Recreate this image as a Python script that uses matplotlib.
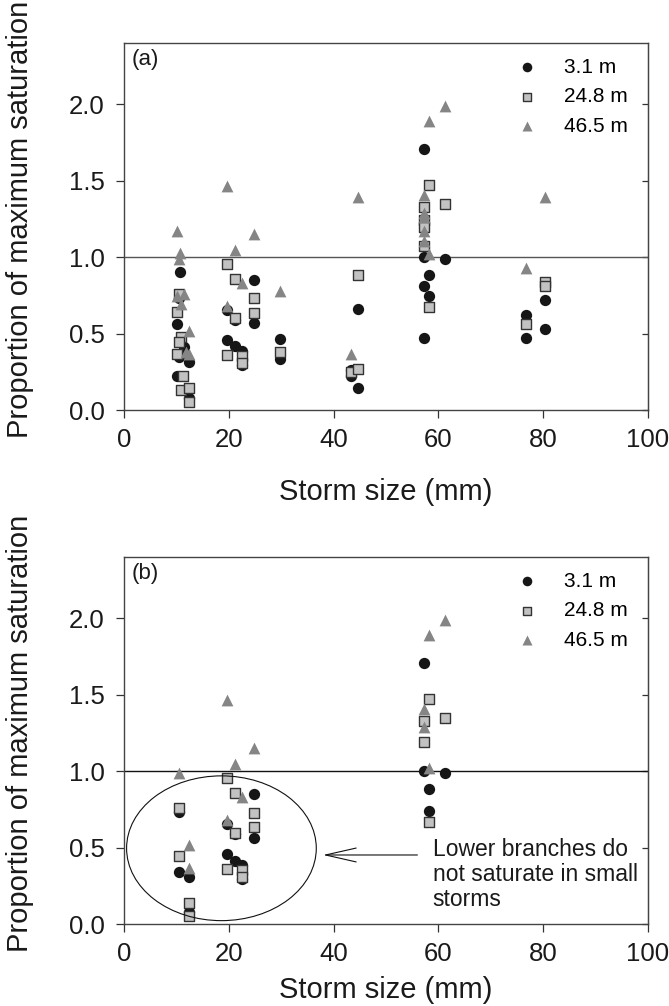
import matplotlib.pyplot as plt
from matplotlib.patches import Ellipse

plt.rcParams['font.family'] = ['Liberation Sans', 'DejaVu Sans']

# (a) all storms
a_x_31 = [10.6, 10.2, 11.5, 10.5, 10.5, 12.4, 10.2, 12.4, 19.6, 19.6, 21.2, 21.2, 22.5, 22.5,
          24.8, 24.8, 29.7, 29.7, 43.4, 43.4, 44.6, 44.6, 57.2, 57.2, 57.2, 57.2, 58.3, 58.3,
          61.2, 76.7, 76.7, 80.3, 80.3]
a_y_31 = [0.905, 0.565, 0.415, 0.735, 0.344, 0.311, 0.22, 0.082, 0.654, 0.46, 0.59, 0.416, 0.388, 0.294,
          0.85, 0.566, 0.467, 0.337, 0.26, 0.225, 0.662, 0.141, 1.71, 1.0, 0.808, 0.471, 0.886, 0.743,
          0.99, 0.62, 0.471, 0.72, 0.532]
a_x_248 = [10.5, 10.2, 10.9, 10.5, 10.2, 11.2, 10.9, 12.4, 12.4, 19.6, 19.6, 21.2, 21.2, 22.5, 22.5,
           24.8, 24.8, 29.7, 43.4, 44.6, 44.6, 57.2, 57.2, 57.2, 57.2, 58.3, 58.3, 61.2, 76.7, 80.3, 80.3]
a_y_248 = [0.76, 0.64, 0.48, 0.446, 0.365, 0.22, 0.13, 0.141, 0.054, 0.958, 0.36, 0.856, 0.599, 0.355, 0.307,
           0.73, 0.634, 0.38, 0.25, 0.886, 0.27, 1.33, 1.24, 1.20, 1.07, 1.47, 0.671, 1.35, 0.565, 0.84, 0.81]
a_x_465 = [10.2, 10.6, 10.5, 10.2, 11.5, 10.8, 12.4, 11.9, 12.4, 19.6, 19.6, 21.2, 22.5, 24.8,
           29.7, 43.4, 44.6, 57.2, 57.2, 57.2, 57.2, 57.2, 58.3, 58.3, 61.2, 76.7, 80.3]
a_y_465 = [1.17, 1.03, 0.99, 0.745, 0.76, 0.695, 0.518, 0.38, 0.366, 1.466, 0.68, 1.048, 0.83, 1.154,
           0.777, 0.369, 1.394, 1.407, 1.29, 1.26, 1.173, 1.103, 1.893, 1.02, 1.99, 0.93, 1.39]

# (b) subset of storms
b_x_31 = [10.5, 10.5, 12.4, 12.4, 19.6, 19.6, 21.2, 21.2, 22.5, 22.5, 24.8, 24.8, 57.2, 57.2, 58.3, 58.3, 61.2]
b_y_31 = [0.735, 0.344, 0.311, 0.082, 0.654, 0.46, 0.59, 0.416, 0.388, 0.294, 0.85, 0.566, 1.71, 1.0, 0.886, 0.743, 0.99]
b_x_248 = [10.5, 10.5, 12.4, 12.4, 19.6, 19.6, 21.2, 21.2, 22.5, 22.5, 24.8, 24.8, 57.2, 57.2, 58.3, 58.3, 61.2]
b_y_248 = [0.76, 0.446, 0.141, 0.054, 0.958, 0.36, 0.856, 0.599, 0.355, 0.307, 0.725, 0.634, 1.33, 1.19, 1.47, 0.671, 1.35]
b_x_465 = [10.5, 12.4, 12.4, 19.6, 19.6, 21.2, 22.5, 24.8, 57.2, 57.2, 58.3, 58.3, 61.2]
b_y_465 = [0.99, 0.518, 0.366, 1.466, 0.68, 1.048, 0.83, 1.154, 1.407, 1.29, 1.893, 1.02, 1.99]

series_labels = ['3.1 m', '24.8 m', '46.5 m']
x_ticks = [0, 20, 40, 60, 80, 100]
y_ticks = [0.0, 0.5, 1.0, 1.5, 2.0]
note = 'Lower branches do\nnot saturate in small\nstorms'


def draw_panel(ax, xs, ys, tag, xlabel_y, line_color):
    ax.scatter(xs[0], ys[0], marker='o', s=66, color='#161616', linewidths=0,
               label=series_labels[0], zorder=3)
    ax.scatter(xs[1], ys[1], marker='s', s=50, facecolor='#c2c2c2', edgecolor='#333333',
               linewidths=1.0, label=series_labels[1], zorder=3)
    ax.scatter(xs[2], ys[2], marker='^', s=72, color='#858585', linewidths=0,
               label=series_labels[2], zorder=3)
    ax.axhline(1.0, color=line_color, lw=1.0, zorder=2)

    ax.set_xlim(0, 100)
    ax.set_ylim(0, 2.4)
    ax.set_xticks(x_ticks)
    ax.set_yticks(y_ticks)
    ax.set_yticklabels([f'{v:.1f}' for v in y_ticks])
    ax.tick_params(axis='both', direction='out', length=6, width=0.9, labelsize=18.5,
                   color='#333333', labelcolor='#1a1a1a')
    ax.tick_params(axis='x', pad=7)
    ax.tick_params(axis='y', pad=8)
    for sp in ax.spines.values():
        sp.set_color('#444444')
        sp.set_linewidth(1.0)

    # inward ticks on the right edge, no labels
    right = ax.secondary_yaxis('right')
    right.set_yticks(y_ticks)
    right.tick_params(direction='in', length=4.5, width=0.9, labelright=False, color='#333333')
    right.spines['right'].set_color('#444444')

    ax.set_xlabel('Storm size (mm)', fontsize=21, color='#1a1a1a')
    ax.set_ylabel('Proportion of maximum saturation', fontsize=21, color='#1a1a1a')
    ax.xaxis.set_label_coords(0.5, xlabel_y)
    ax.yaxis.set_label_coords(-0.172, 0.52)

    ax.text(0.014, 0.985, tag, transform=ax.transAxes, fontsize=16, ha='left', va='top',
            color='#1a1a1a')
    ax.legend(loc='upper left', bbox_to_anchor=(0.75, 0.96), frameon=False, fontsize=15,
              handlelength=1.0, handletextpad=1.25, labelspacing=0.5, borderpad=0,
              borderaxespad=0, markerscale=0.85)


fig = plt.figure(figsize=(6.69, 10.06), dpi=100)
ax_a = fig.add_axes([0.1853, 0.5924, 0.7833, 0.3648])
ax_b = fig.add_axes([0.1853, 0.0812, 0.7833, 0.3651])

draw_panel(ax_a, [a_x_31, a_x_248, a_x_465], [a_y_31, a_y_248, a_y_465], '(a)', -0.184, '#555555')
draw_panel(ax_b, [b_x_31, b_x_248, b_x_465], [b_y_31, b_y_248, b_y_465], '(b)', -0.142, '#111111')

# small storms where the lower branches stay below saturation
ax_b.add_patch(Ellipse((18.6, 0.497), 36.2, 0.946, fill=False, lw=0.8, edgecolor='#111111', zorder=4))
ax_b.annotate('', xy=(38.0, 0.453), xytext=(56.0, 0.453),
              arrowprops=dict(arrowstyle='->,head_length=2.2,head_width=0.5', color='#111111', lw=0.8,
                              shrinkA=0, shrinkB=0))
ax_b.text(58.9, 0.562, note, fontsize=16.5, ha='left', va='top', linespacing=1.1,
          color='#1a1a1a')

fig.savefig('out.png', dpi=100)
